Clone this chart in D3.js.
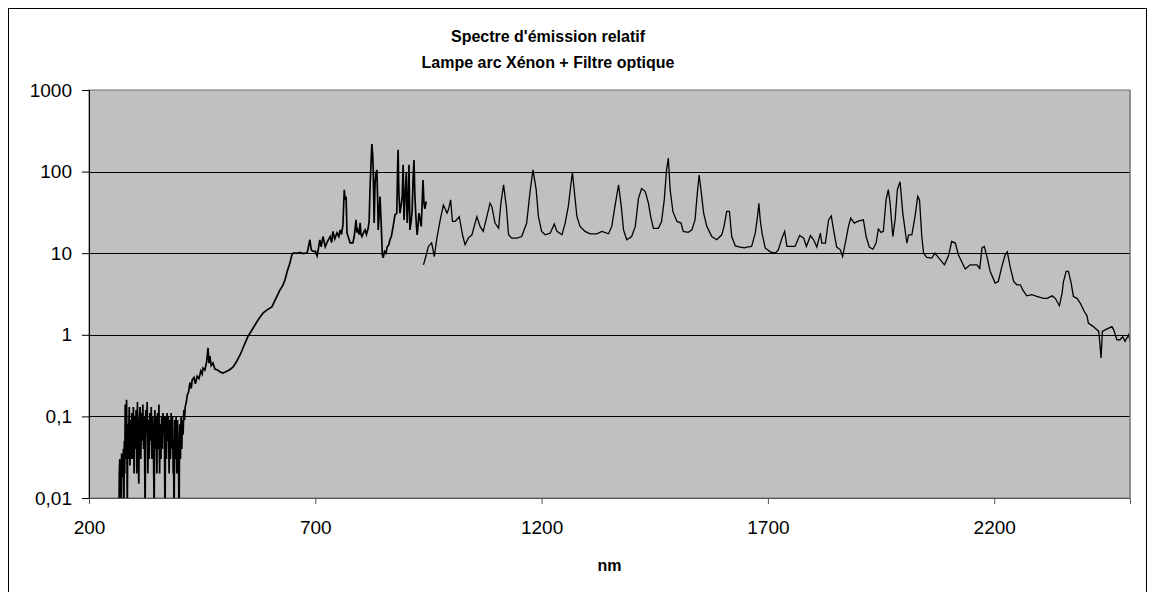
<!DOCTYPE html>
<html>
<head>
<meta charset="utf-8">
<script src="https://cdn.jsdelivr.net/npm/d3@7"></script>
<style>
  html, body { margin: 0; padding: 0; background: #fff; }
  svg { display: block; }
  text { font-family: "Liberation Sans", Arial, sans-serif; fill: #000; }
</style>
</head>
<body>
<svg id="chart" width="1155" height="592"></svg>
<script>
// ---------- data ----------
const titleLines = ["Spectre d'émission relatif", "Lampe arc Xénon + Filtre optique"];
const xLabel = "nm";
const xTicks = [200, 700, 1200, 1700, 2200];
const yTicks = [0.01, 0.1, 1, 10, 100, 1000];
const yTickLabels = ["0,01", "0,1", "1", "10", "100", "1000"];
const xDomain = [200, 2500];
const yDomain = [0.01, 1000];

// UV-visible part (noisy below 420 nm)
const uvSeries = [
  [266,0.005],[267,0.02],[268,0.03],[269,0.012],[270,0.025],[271,0.005],[272,0.035],[273,0.018],[274,0.03],
  [275,0.02],[276,0.04],[277,0.005],[278,0.05],[279,0.02],[280,0.14],[281,0.03],[282,0.09],[283,0.16],
  [284,0.03],[284.5,0.006],[285.5,0.05],[286,0.08],[287,0.03],[287.5,0.06],[289,0.13],[290,0.04],
  [290.5,0.025],[292,0.09],[293,0.03],[293.5,0.06],[295,0.11],[296,0.04],[296.5,0.03],[298,0.13],[299,0.05],
  [299.5,0.02],[301,0.1],[302,0.06],[302.5,0.04],[304,0.12],[305,0.05],[305.5,0.02],[307,0.15],[308,0.07],
  [308.5,0.05],[310,0.015],[311,0.06],[311.5,0.09],[313,0.13],[314,0.05],[314.5,0.03],[316,0.11],[317,0.07],
  [317.5,0.05],[319,0.14],[320,0.06],[320.5,0.04],[322,0.1],[323,0.03],[324,0.006],[325,0.08],[325.5,0.12],
  [327,0.06],[328,0.1],[328.5,0.15],[330,0.02],[331,0.07],[331.5,0.09],[333,0.03],[334,0.08],[334.5,0.11],
  [336,0.05],[337,0.09],[337.5,0.13],[339,0.03],[340,0.07],[340.5,0.1],[342,0.06],[343,0.02],[344,0.006],
  [345,0.08],[345.5,0.12],[347,0.04],[348,0.08],[348.5,0.1],[350,0.02],[351,0.07],[351.5,0.11],[353,0.04],
  [354,0.09],[354.5,0.14],[356,0.02],[357,0.06],[357.5,0.08],[359,0.03],[360,0.07],[360.5,0.1],[362,0.04],
  [363,0.08],[363.5,0.11],[365,0.06],[366,0.09],[366.5,0.1],[367,0.03],[368,0.005],[369,0.06],[369.5,0.1],
  [371,0.03],[372,0.08],[372.5,0.11],[374,0.05],[375,0.08],[375.5,0.1],[377,0.02],[378,0.06],[378.5,0.09],
  [380,0.03],[381,0.07],[381.5,0.11],[383,0.04],[384,0.08],[384.5,0.1],[386,0.02],[387,0.03],[388,0.005],
  [389,0.05],[389.5,0.09],[391,0.03],[392,0.07],[392.5,0.1],[394,0.02],[395,0.06],[395.5,0.09],[397,0.03],
  [398,0.02],[399,0.005],[400,0.05],[400.5,0.08],[402,0.03],[403,0.07],[403.5,0.1],[405,0.04],[406,0.07],
  [406.5,0.09],[408,0.06],[409,0.1],[409.5,0.12],[411,0.09],
  [412.5,0.13],[415,0.15],[417,0.18],[420,0.2],[423,0.26],[426,0.22],[428,0.28],[432,0.3],[435,0.25],
  [439,0.31],[443,0.29],[447,0.36],[450,0.33],[452,0.39],[456,0.37],[460,0.47],[463,0.69],[465,0.45],
  [467,0.55],[470,0.42],[474,0.45],[478,0.38],[484,0.37],[490,0.35],[496,0.34],[501,0.35],[510,0.37],
  [518,0.40],[526,0.47],[534,0.57],[543,0.75],[551,0.95],[559,1.12],[567,1.33],[576,1.6],[585,1.86],
  [595,2.05],[604,2.2],[613,2.8],[622,3.56],[628,4.0],[633,4.7],[638,6.0],[644,7.6],[648,9.5],[651,10],
  [660,10],[666,10.2],[674,9.9],[682,10.1],[688,14.6],[691,11],[695,10.5],[700,10.6],[704,9.3],[707,11.5],
  [710,14.6],[713,12],[717,16],[722,12],[727,14],[733,16],[736,13.5],[739,18.5],[743,15],[748,17.7],
  [752,16],[755,19.3],[758,17],[761,22.2],[764,60],[766,45],[768,49.6],[770,17.7],[774,15],[777,13.4],
  [783,13.4],[786,16],[790,25.6],[792,18],[794,19.3],[797,17],[799,23.5],[801,17],[803,16],[807,18],
  [810,19.3],[813,17],[817,20.5],[819,25],[821,65.6],[823,120],[825,218],[827,150],[828,105],[830,23.5],
  [832,72.5],[834,95],[836,105],[838,40],[839,19.3],[841,30],[843,49.6],[846,20],[848,9.6],[850,8.8],
  [853,10.5],[856,10],[859,12],[862,12.5],[865,14.6],[868,16],[872,21.3],[876,29.5],[880,31],[882,120],
  [883,185],[884,80],[885,49.6],[887,31],[890,40],[892,49.6],[894,121],[896,25.6],[899,60],[901,96],
  [903,23.5],[905,40],[907,121],[909,19.3],[912,25],[914,34],[916,80],[918,139],[920,50],[923,23.5],
  [925,16.8],[927,22],[929,31],[932,25],[934,21.3],[936,40],[938,79],[940,41.6],[942,35],[945,43]
];

// Near-infrared part
const nirSeries = [
  [939,7.2],[945,9.5],[950,12.1],[957,13.4],[963,9.1],[968,14.6],[976,25.6],[983,39],[991,31],[994,34],
  [999,45],[1003,24.5],[1009,24.5],[1018,28],[1026,16],[1031,12.7],[1038,15.3],[1046,16.8],[1053,23.4],
  [1057,28],[1064,21.3],[1071,18.5],[1079,28],[1086,41],[1090,37.5],[1097,23.4],[1105,20.2],[1110,41],
  [1116,69],[1122,37.5],[1127,16.8],[1134,15.3],[1145,15.3],[1156,16],[1167,23.4],[1175,60],[1181,105],
  [1188,60],[1193,28],[1200,18.5],[1208,16.8],[1219,17.6],[1228,22.8],[1234,18.5],[1245,16.8],[1252,23.4],
  [1259,37.5],[1265,72],[1268,98],[1272,60],[1278,28],[1285,21.3],[1296,18.5],[1307,17.3],[1322,17.3],
  [1333,18.5],[1348,17.3],[1355,21.3],[1362,37.5],[1370,69],[1376,37.5],[1381,19.3],[1388,14.6],[1399,16],
  [1407,21.3],[1414,47],[1421,62],[1429,57],[1436,41],[1441,28],[1447,20.2],[1458,20.2],[1465,24.5],
  [1471,45],[1476,105],[1480,146],[1484,60],[1490,32.5],[1499,24.5],[1508,23.4],[1513,18.5],[1524,18],
  [1532,19.3],[1539,25.6],[1544,54.5],[1548,91],[1552,60],[1558,31],[1565,21.3],[1576,16],[1587,14.6],
  [1598,16.8],[1603,21.3],[1609,32.5],[1615,32.5],[1620,16],[1628,12.3],[1639,11.9],[1648,11.6],[1653,11.9],
  [1664,12.1],[1672,17.6],[1677,28],[1680,41],[1683,25.6],[1687,17.6],[1694,11.6],[1705,10.4],[1716,10],
  [1723,11],[1731,15.3],[1737,18.5],[1742,12.1],[1753,12.1],[1760,12.1],[1770,16.5],[1779,15.3],[1785,12.1],
  [1794,16.4],[1801,14.6],[1808,11.9],[1816,17.6],[1819,13.3],[1827,13.3],[1834,25.6],[1840,28.6],[1845,19.3],
  [1852,11.9],[1860,11],[1865,9.1],[1871,13.3],[1878,21.3],[1883,27],[1891,23.4],[1898,24.5],[1911,25.6],
  [1917,16],[1924,11.9],[1932,11.2],[1939,13.3],[1944,19.8],[1950,18],[1955,18.5],[1961,45],[1966,60],
  [1970,41],[1976,16],[1981,25.6],[1986,60],[1992,75],[1998,31],[2007,13.3],[2011,16.8],[2018,16.8],
  [2025,28],[2031,49.6],[2035,45],[2040,16],[2044,10],[2051,8.9],[2062,8.7],[2069,10],[2081,8.3],[2090,7.2],
  [2099,9.3],[2106,13.9],[2114,13.3],[2121,9.5],[2136,6.4],[2147,7.2],[2162,7.2],[2168,6.5],[2173,11.6],
  [2178,12.1],[2184,9.1],[2191,6.0],[2202,4.3],[2209,4.5],[2217,6.9],[2224,9.5],[2229,10.4],[2235,6.9],
  [2243,4.5],[2250,4.1],[2258,4.1],[2263,3.55],[2272,3.0],[2283,3.1],[2294,2.95],[2309,2.8],[2317,2.8],
  [2328,3.0],[2335,2.8],[2344,2.27],[2350,3.24],[2353,4.5],[2359,6.0],[2364,6.0],[2370,4.3],[2375,2.95],
  [2383,2.8],[2390,2.45],[2399,1.93],[2405,1.71],[2408,1.39],[2419,1.26],[2431,1.1],[2434,0.72],[2436,0.52],
  [2439,1.1],[2445,1.15],[2460,1.26],[2464,1.15],[2471,0.87],[2478,0.87],[2484,0.95],[2489,0.83],[2497,1.0],
  [2505,0.65]
];

// ---------- layout ----------
const svg = d3.select("#chart");
const plot = { left: 89, top: 90, right: 1130, bottom: 498 };

const x = d3.scaleLinear().domain(xDomain).range([plot.left, plot.right]);
const y = d3.scaleLog().domain(yDomain).range([plot.bottom, plot.top]);

// outer chart border
svg.append("rect")
  .attr("x", 8.5).attr("y", 8.5).attr("width", 1138).attr("height", 620)
  .attr("fill", "#fff").attr("stroke", "#000").attr("stroke-width", 1);

// plot background
svg.append("rect")
  .attr("x", plot.left).attr("y", plot.top)
  .attr("width", plot.right - plot.left).attr("height", plot.bottom - plot.top)
  .attr("fill", "#c0c0c0").attr("stroke", "#808080").attr("stroke-width", 1.2);

// gridlines
svg.append("g").selectAll("line")
  .data(yTicks.filter(v => v > yDomain[0] && v < yDomain[1]))
  .join("line")
  .attr("x1", plot.left).attr("x2", plot.right)
  .attr("y1", d => Math.round(y(d)) + 0.5).attr("y2", d => Math.round(y(d)) + 0.5)
  .attr("stroke", "#000").attr("stroke-width", 1);

// y axis
const yAxis = d3.axisLeft(y).tickValues(yTicks)
  .tickFormat((d, i) => yTickLabels[i]).tickSizeOuter(0).tickSize(7).tickPadding(10);
const gy = svg.append("g").attr("transform", `translate(${plot.left},0)`).call(yAxis);
gy.select(".domain").attr("stroke", "#000");
gy.selectAll(".tick line").attr("stroke", "#000");
gy.selectAll(".tick text").attr("font-size", 19).attr("font-family", "'Liberation Sans', Arial, sans-serif").attr("fill", "#000");

// x axis
const xAxis = d3.axisBottom(x).tickValues(xTicks).tickFormat(d3.format("d"))
  .tickSizeOuter(0).tickSize(6).tickPadding(17);
const gx = svg.append("g").attr("transform", `translate(0,${plot.bottom})`).call(xAxis);
gx.select(".domain").attr("stroke", "#555");
gx.selectAll(".tick line").attr("stroke", "#555");
gx.selectAll(".tick text").attr("font-size", 19).attr("font-family", "'Liberation Sans', Arial, sans-serif").attr("fill", "#000");

// clip
svg.append("clipPath").attr("id", "clip")
  .append("rect").attr("x", plot.left).attr("y", plot.top)
  .attr("width", plot.right - plot.left).attr("height", plot.bottom - plot.top);

const line = d3.line().x(d => x(d[0])).y(d => y(d[1]));
const lines = svg.append("g").attr("clip-path", "url(#clip)");
[[uvSeries, 1.7], [nirSeries, 1.3]].forEach(([s, w]) => {
  lines.append("path").datum(s)
    .attr("d", line)
    .attr("fill", "none").attr("stroke", "#000").attr("stroke-width", w);
});

// redraw right plot border over lines
svg.append("line").attr("x1", plot.right).attr("x2", plot.right).attr("y1", plot.top).attr("y2", plot.bottom)
  .attr("stroke", "#808080").attr("stroke-width", 1.2);

// title
const title = svg.append("text").attr("text-anchor", "middle")
  .attr("font-weight", "bold").attr("font-size", 16);
title.append("tspan").attr("x", 548).attr("y", 41.5).text(titleLines[0]);
title.append("tspan").attr("x", 548).attr("y", 68).text(titleLines[1]);

// x label
svg.append("text").attr("x", (plot.left + plot.right) / 2).attr("y", 571)
  .attr("text-anchor", "middle").attr("font-weight", "bold").attr("font-size", 16)
  .text(xLabel);
</script>
</body>
</html>
